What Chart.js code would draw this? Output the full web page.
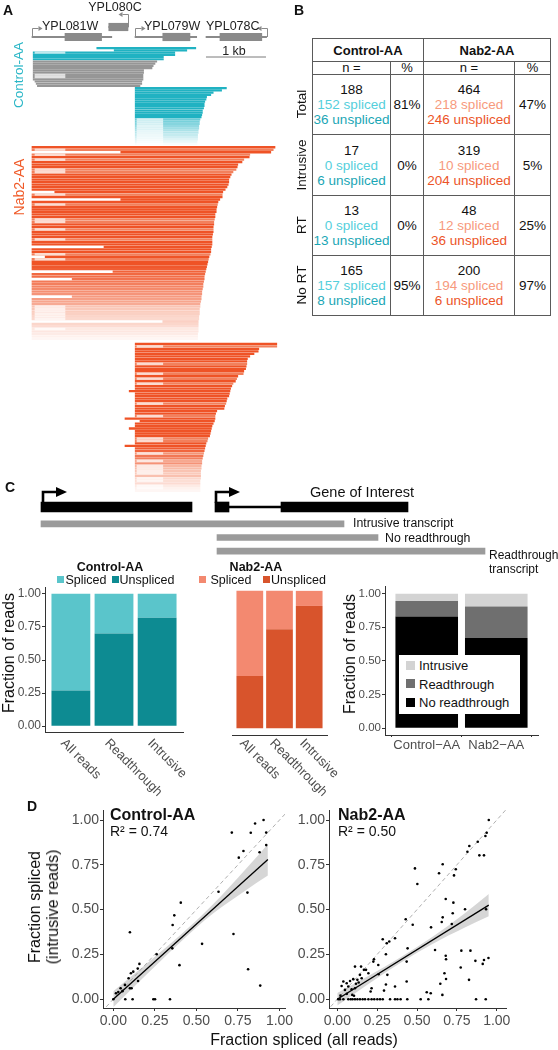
<!DOCTYPE html>
<html><head><meta charset="utf-8">
<script src="https://cdn.jsdelivr.net/npm/chart.js"></script>
<style>
html,body{margin:0;padding:0;background:#fff;}
#fig{position:relative;width:558px;height:1050px;overflow:hidden;font-family:"Liberation Sans",Arial,sans-serif;color:#111;}
#fig canvas{position:absolute;}
.t{position:absolute;white-space:nowrap;line-height:1;}
.sq{position:absolute;}
table.tb{position:absolute;left:312px;top:38px;border-collapse:collapse;table-layout:fixed;font-size:13.5px;color:#111;}
table.tb td{border:1px solid #5a5a5a;text-align:center;padding:0;line-height:15px;vertical-align:middle;}
</style></head><body><div id="fig"></div>
<script>
// ---- panel A: gene models (bp from left end of the window) ----
const geneNames = ['YPL081W','YPL080C','YPL079W','YPL078C'];
const geneStrand = ['+','-','+','-'];
const geneRow = ['main','top','main','main'];
const geneStart = [0,1280,1717,2900];
const geneEnd = [1330,1600,2745,3910];
const cdsStart = [550,1280,2180,3133];
const cdsEnd = [1160,1600,2633,3830];
const scaleBar = [2900,3900];
const intron081 = [50,550];
const intron079 = [1750,2180];

// ---- panel A: reads ----
const ctrlUpStart = [1080,1370,20,20,20,20, 20,20,20,20,20,20,20,20,20,50,70,90];
const ctrlUpEnd = [2730,2580,2380,2380,2190,2190, 2080,2050,2020,2000,1860,1860,1850,1850,1850,1830,1830,1800];
const ctrlUpSpliced = [0,0,1,0,0,0, 0,0,0,0,0,0,1,1,0,0,0,0];
const ctrlUpKind = ['t','t','t','t','t','t','g','g','g','g','g','g','g','g','g','g','g','g'];
const ctrlLowStart = [1720,1720,1720,1720,1720,1720,1720,1720,1720,1720,1720,1720,1720,1720,1720,1720,1720,1720,1720,1720,1720,1720,1720,1720,1720,1720];
const ctrlLowEnd = [3240,3160,3020,2980,2910,2900,2880,2870,2870,2860,2840,2840,2830,2820,2800,2790,2790,2780,2780,2770,2770,2760,2760,2760,2750,2750];
const ctrlLowSpliced = [0,0,0,0,0,0,0,0,0,0,0,0,0,0,1,1,1,1,1,1,1,1,1,1,1,1];

const nabUpStart = [0,0,1480,0,0,0,0,0,0,0, 0,0,0,0,0,0,0,0,380,0, 0,1480,0,0,0,0,0,0,0,0, 0,0,0,0,0,0,0,0,0,0,
  1200,0,0,0,220,0,0,0,0,0, 1350,0,0,670,0,0,0,0,0,0, 670,0,0,0,0,0,0,0,0,0, 2180,0,0,0,0,0,0,0];
const nabUpEnd = [4050,4020,3980,3630,3620,3530,3500,3430,3420,3400, 3350,3320,3300,3280,3280,3270,3250,3220,3180,3170,
  3170,3130,3100,3090,3080,3070,3070,3050,3050,3040, 3030,3030,3020,3020,3020,3010,3000,3000,3000,3000,
  2990,2980,2980,2970,2950,2940,2930,2920,2910,2900, 2890,2880,2870,2870,2860,2850,2850,2840,2830,2830,
  2820,2820,2810,2800,2800,2790,2790,2790,2780,2780, 2770,2770,2770,2770,2770,2760,2760,2760];
const nabUpSpliced = [0,1,0,1,0,1,0,0,0,1, 1,0,0,0,0,0,0,0,0,1, 0,0,0,1,0,0,0,0,0,1, 1,0,0,1,0,0,0,1,0,0,
  0,0,0,1,0,1,0,0,0,0, 0,0,0,0,0,0,0,0,0,0, 0,0,0,0,1,1,1,1,1,1, 0,0,0,1,0,0,0,0];
const nabLowStart = [1720,1720,1720,1720,1720,1720,1720,1720,1720,1720, 1720,1720,1720,1720,1720,1720,1720,1720,1720,1620,
  1720,1720,1720,1720,1720,1720,1720,1720,1720,1720, 1550,1800,1720,1720,1620,1720,1720,1720,1720,1720,
  1720,1550,1720,1720,1720,1720,1720,1720,1720,1720, 1720,1720,1720,1720,1720,1720,1720,1720,1720,1720];
const nabLowEnd = [4080,4080,3780,3770,3700,3630,3590,3580,3580,3570, 3560,3530,3520,3430,3410,3390,3350,3330,3310,3300,
  3290,3280,3250,3240,3230,3210,3200,3080,3060,3050, 3050,3040,3020,3000,2990,2980,2970,2960,2930,2920,
  2900,2890,2880,2870,2860,2850,2840,2830,2830,2820, 2820,2810,2810,2810,2810,2800,2800,2800,2800,2800];
const nabLowSpliced = [0,1,0,0,0,0,0,0,1,0, 0,0,1,0,1,0,1,0,0,0, 0,0,0,0,1,0,0,0,0,1, 0,0,0,0,0,0,0,0,1,1,
  0,0,0,0,1,0,0,1,0,1, 1,1,1,0,1,1,0,1,1,0];

// ---- panel B: table ----
const tblRows = ['Total','Intrusive','RT','No RT'];
const ctrlN = [188,17,13,165], ctrlSpl = [152,0,0,157], ctrlUns = [36,6,13,8], ctrlPct = ['81%','0%','0%','95%'];
const nabN = [464,319,48,200], nabSpl = [218,10,12,194], nabUns = [246,204,36,6], nabPct = ['47%','5%','25%','97%'];

// ---- panel C ----
const upstreamGene = [41,192];
const goiExons = [[215,229],[281,408]];
const goiIntron = [229,281];
const tssPos = [43,216];
const txRows = ['intrusive','noRT','RT'];
const txSpans = [[41,344],[217,378],[217,485]];
const readGroups = ['All reads','Readthrough','Intrusive'];
const ctrlSplicedFrac = [0.73,0.30,0.18];
const ctrlUnsplicedFrac = [0.27,0.70,0.82];
const nabSplicedFrac = [0.62,0.28,0.11];
const nabUnsplicedFrac = [0.38,0.72,0.89];
const strains = ['Control\u2212AA','Nab2\u2212AA'];
const fracNoRT = [0.83,0.67];
const fracRT = [0.115,0.235];
const fracIntrusive = [0.055,0.095];
const fracTicks = [0,0.25,0.5,0.75,1];

// ---- panel D ----
const ctrlAllX = [0.853,0.904,0.827,0.92,0.713,0.92,0.88,0.783,0.755,0.633,0.807,0.406,0.367,0.357,0.1,0.723,0.534,0.355,0.261,0.398,
  0.811,0.157,0.147,0.12,0.106,0.092,0.149,0.1,0.11,0.07,0.044,0.016,0,0.072,0.116,0.241,0.251,0.341,0.884,0.03,0.055];
const ctrlIntrY = [0.981,1.0,0.929,0.93,0.93,0.86,0.82,0.827,0.79,0.6,0.595,0.539,0.468,0.414,0.374,0.364,0.309,0.284,0.251,0.19,
  0.167,0.197,0.171,0.154,0.145,0.117,0.102,0.061,0.061,0.08,0.061,0.033,0,0,0,0,0,0,0.076,0.04,0.045];
const nabAllX = [0.95,0.937,0.929,0.881,0.828,0.816,0.891,0.92,0.661,0.487, 0.743,0.638,0.732,0.502,0.68,0.728,0.801,0.933,0.429,0.661,
  0.655,0.588,0.473,0.724,0.718,0.441,0.362,0.285,0.31,0.326, 0.305,0.23,0.226,0.149,0.68,0.682,0.778,0.835,0.613,0.866,
  0.92,0.948,0.912,0.774,0.435,0.826,0.672,0.682,0.646,0.659, 0.561,0.586,0.435,0.362,0.314,0.305,0.293,0.257,0.259,0.195,
  0.167,0.18,0.142,0.126,0.111,0.1,0.08,0.059,0.038,0.027, 0.048,0.069,0.09,0.111,0.215,0.209,0.117,0.134,0.153,0.006,
  0.094,0.105,0.02,0.06, 0.017,0.038,0.069,0.084,0.096,0.111,0.126,0.142,0.159,0.174,
  0.195,0.215,0.232,0.251,0.268,0.285,0.331,0.362,0.377,0.397, 0.439,0.523,0.571,0.87,0.931];
const nabIntrY = [1.0,0.929,0.911,0.879,0.855,0.823,0.803,0.803,0.753,0.73, 0.725,0.703,0.691,0.643,0.559,0.539,0.502,0.502,0.446,0.457,
  0.431,0.401,0.416,0.48,0.42,0.284,0.34,0.335,0.312,0.322, 0.251,0.223,0.21,0.182,0.243,0.223,0.271,0.271,0.275,0.214,
  0.219,0.23,0.197,0.177,0.21,0.108,0.145,0.113,0.086,0.024, 0.039,0.033,0.099,0.071,0.136,0.082,0.048,0.191,0.139,0.145,
  0.164,0.164,0.136,0.108,0.182,0.112,0.102,0.089,0.099,0.074, 0.052,0.071,0.056,0.061,0.061,0.043,0.086,0.093,0.117,0,
  0.024,0.019,0.02,0.03, 0,0,0,0,0,0,0,0,0,0, 0,0,0,0,0,0,0,0,0,0, 0,0,0,0,0];
const ctrlFitX = [0,0.93], ctrlFitY = [0,0.78];
const ctrlBandX = [0,0.2,0.4,0.6,0.8,0.93];
const ctrlBandLo = [-0.045,0.138,0.315,0.478,0.61,0.69];
const ctrlBandHi = [0.045,0.198,0.355,0.53,0.73,0.865];
const nabFitX = [0,0.95], nabFitY = [0,0.525];
const nabBandX = [0,0.2,0.4,0.6,0.8,0.95];
const nabBandLo = [-0.035,0.088,0.205,0.31,0.40,0.463];
const nabBandHi = [0.035,0.132,0.235,0.35,0.48,0.587];
const diagonal = [{x:-0.1,y:-0.1},{x:1.1,y:1.1}];

// ---- colours ----
const TEAL=[32,178,194], TEAL_L=[95,200,212], GREY=[150,150,150], NAB=[239,83,38], NAB_L=[242,128,92];
const GENE_COL='#8a8a8a';
const CT_LIGHT='#5ac5cb', CT_DARK='#0d8b92', NB_LIGHT='#f38970', NB_DARK='#d8542c';
const FONT='"Liberation Sans", Arial, sans-serif';

Chart.defaults.font.family = FONT;
Chart.defaults.animation = false;
Chart.defaults.responsive = false;
Chart.defaults.events = [];
Chart.defaults.plugins.legend.display = false;
Chart.defaults.plugins.tooltip.enabled = false;

const fig = document.getElementById('fig');
function mk(left, top, w, h){
  const c=document.createElement('canvas'); c.width=w; c.height=h;
  c.style.left=left+'px'; c.style.top=top+'px'; c.style.width=w+'px'; c.style.height=h+'px';
  fig.appendChild(c); return c;
}
function put(s, x, y, o={}){
  const d=document.createElement('div'); d.className='t'; d.textContent=s;
  const ax={l:'0',c:'-50%',r:'-100%'}[o.a||'l'];
  d.style.left=x+'px'; d.style.top=y+'px'; d.style.fontSize=(o.size||13)+'px';
  d.style.fontWeight=o.bold?'bold':'normal'; d.style.color=o.color||'#111';
  d.style.transform=`translate(${ax},-50%)`+(o.rot?` rotate(${o.rot}deg)`:'');
  fig.appendChild(d); return d;
}
function rot45(s, x, y){
  const d=document.createElement('div'); d.className='t'; d.textContent=s;
  d.style.cssText+=`left:${x}px;top:${y}px;font-size:13px;color:#4d4d4d;transform-origin:0 0;transform:rotate(45deg);`;
  fig.appendChild(d);
}
function sq(x,y,w,h,col){
  const d=document.createElement('div'); d.className='sq';
  d.style.cssText+=`left:${x}px;top:${y}px;width:${w}px;height:${h}px;background:${col};`;
  fig.appendChild(d);
}
function rgba(c,a){ return `rgba(${c[0]},${c[1]},${c[2]},${a.toFixed(3)})`; }
function fade(r,n,f0){ return r<f0 ? 1 : Math.max(0.05, 1-0.95*(r-f0+1)/(n-f0)); }

// ================= Panel A =================
const READ_MIN=-533, READ_MAX=4300;
const geneRowLabels=['top','main'];
new Chart(mk(0,0,290,62),{
  type:'bar',
  data:{labels:geneRowLabels, datasets:[
    {data:geneNames.map((g,i)=>({x:[cdsStart[i],cdsEnd[i]],y:geneRow[i]})), backgroundColor:GENE_COL, barThickness:7.5, grouped:false, order:0},
    {data:geneNames.map((g,i)=>({x:[geneStart[i],geneEnd[i]],y:geneRow[i]})), backgroundColor:GENE_COL, barThickness:1.3, grouped:false, order:1}
  ]},
  options:{indexAxis:'y', layout:{padding:{top:22,bottom:20,left:0,right:0}},
    scales:{x:{type:'linear',min:READ_MIN,max:READ_MAX,display:false}, y:{display:false}}},
  plugins:[{id:'arrows', afterDatasetsDraw(chart){
    const ctx=chart.ctx, xs=chart.scales.x, ys=chart.scales.y;
    ctx.save(); ctx.strokeStyle=GENE_COL; ctx.fillStyle=GENE_COL; ctx.lineWidth=1;
    geneNames.forEach((g,i)=>{
      const plus=geneStrand[i]==='+';
      const x=Math.round(xs.getPixelForValue(plus?geneStart[i]:geneEnd[i]))+0.5;
      const yc=ys.getPixelForValue(geneRowLabels.indexOf(geneRow[i]));
      const y1=Math.round(yc-(geneRow[i]==='top'?13:9.5))+0.5;
      const dir=plus?1:-1, x2=x+dir*6;
      ctx.beginPath(); ctx.moveTo(x,yc); ctx.lineTo(x,y1); ctx.lineTo(x2,y1); ctx.stroke();
      ctx.beginPath(); ctx.moveTo(x2,y1-2.5); ctx.lineTo(x2+dir*4,y1); ctx.lineTo(x2,y1+2.5); ctx.closePath(); ctx.fill();
    });
    const yb=chart.chartArea.bottom+15;
    ctx.strokeStyle='#7a7a7a'; ctx.beginPath();
    ctx.moveTo(xs.getPixelForValue(scaleBar[0]),yb); ctx.lineTo(xs.getPixelForValue(scaleBar[1]),yb); ctx.stroke();
    ctx.restore();
  }}]
});

function buildRows(start,end,spl,intron,colFn,f0){
  return end.map((e,i)=>({s:start[i],e:e,sp:spl[i],intr:intron,c:colFn(i),a:fade(i,end.length,f0)}));
}
const ctrlRows = buildRows(ctrlUpStart,ctrlUpEnd,ctrlUpSpliced,intron081,i=>ctrlUpKind[i]==='g'?GREY:TEAL,99)
  .concat(buildRows(ctrlLowStart,ctrlLowEnd,ctrlLowSpliced,intron079,i=>ctrlLowSpliced[i]?TEAL_L:TEAL,14));
const nabRows = buildRows(nabUpStart,nabUpEnd,nabUpSpliced,intron081,i=>nabUpSpliced[i]?NAB_L:NAB,48)
  .concat([null])
  .concat(buildRows(nabLowStart,nabLowEnd,nabLowSpliced,intron079,i=>nabLowSpliced[i]?NAB_L:NAB,42));

function readChart(canvas, rows, thick){
  return new Chart(canvas,{
    type:'bar',
    data:{labels:rows.map((r,i)=>String(i)), datasets:[
      {data:rows.map(r=>r&&r.sp&&r.s<r.intr[1]?[Math.max(r.s,r.intr[0]),Math.min(r.e,r.intr[1])]:null),
        backgroundColor:'rgba(255,255,255,0.72)', barThickness:thick, grouped:false, order:0},
      {data:rows.map(r=>r?[r.s,r.e]:null),
        backgroundColor:rows.map(r=>r?rgba(r.c,r.a):'rgba(0,0,0,0)'), barThickness:thick, grouped:false, order:1}
    ]},
    options:{indexAxis:'y', layout:{padding:0},
      scales:{x:{type:'linear',min:READ_MIN,max:READ_MAX,display:false}, y:{display:false}}}
  });
}
readChart(mk(0,47,290,98), ctrlRows, 1.5);
readChart(mk(0,146,290,346), nabRows, 1.65);

put('A',3,10,{bold:true,size:14});
put('YPL080C',115,7,{a:'c',size:12.5,color:'#222'});
put('YPL081W',42,25.5,{size:12.5,color:'#222'});
put('YPL079W',144,25.5,{size:12.5,color:'#222'});
put('YPL078C',206,25.5,{size:12.5,color:'#222'});
put('1 kb',234,51,{a:'c',size:12.5,color:'#222'});
put('Control-AA',19,75,{a:'c',rot:-90,size:13.5,color:'#29b6c6'});
put('Nab2-AA',19,187,{a:'c',rot:-90,size:14,color:'#f05a28'});

// ================= Panel B =================
put('B',294,10,{bold:true,size:14});
(function(){
  const tb=document.createElement('table'); tb.className='tb';
  const cg=document.createElement('colgroup');
  [78,33,91,36].forEach(w=>{const c=document.createElement('col'); c.style.width=w+'px'; cg.appendChild(c);});
  tb.appendChild(cg);
  let h=`<tr><td colspan="2" style="height:22px;font-weight:bold;font-size:13px">Control-AA</td><td colspan="2" style="font-weight:bold;font-size:13px">Nab2-AA</td></tr>`;
  h+=`<tr><td style="height:12px;line-height:12px;font-size:13px">n =</td><td style="line-height:12px;font-size:13px">%</td><td style="line-height:12px;font-size:13px">n =</td><td style="line-height:12px;font-size:13px">%</td></tr>`;
  tblRows.forEach((r,i)=>{
    h+=`<tr><td style="height:${i===1?60:59}px">${ctrlN[i]}<br><span style="color:#55cfdc">${ctrlSpl[i]} spliced</span><br><span style="color:#1aa6b5">${ctrlUns[i]} unspliced</span></td>`+
       `<td>${ctrlPct[i]}</td>`+
       `<td>${nabN[i]}<br><span style="color:#f79a7d">${nabSpl[i]} spliced</span><br><span style="color:#ec5427">${nabUns[i]} unspliced</span></td>`+
       `<td>${nabPct[i]}</td></tr>`;
  });
  tb.innerHTML+=h; fig.appendChild(tb);
})();
[104,165,225,285].forEach((y,i)=>put(tblRows[i],302,y,{a:'c',rot:-90,size:13.5}));

// ================= Panel C =================
put('C',5,487,{bold:true,size:14});
new Chart(mk(0,480,558,40),{
  type:'bar',
  data:{labels:['gene'], datasets:[
    {data:[{x:upstreamGene,y:'gene'}].concat(goiExons.map(e=>({x:e,y:'gene'}))), backgroundColor:'#000', barThickness:10, grouped:false, order:0},
    {data:[{x:goiIntron,y:'gene'}], backgroundColor:'#000', barThickness:1.6, grouped:false, order:1}
  ]},
  options:{indexAxis:'y', layout:{padding:{top:20,bottom:6}},
    scales:{x:{type:'linear',min:0,max:558,display:false}, y:{display:false}}},
  plugins:[{id:'tss', afterDatasetsDraw(chart){
    const ctx=chart.ctx, xs=chart.scales.x, yc=chart.scales.y.getPixelForValue(0);
    ctx.save(); ctx.strokeStyle='#000'; ctx.fillStyle='#000'; ctx.lineWidth=2.6;
    tssPos.forEach(p=>{
      const x=xs.getPixelForValue(p), yt=yc-15;
      ctx.beginPath(); ctx.moveTo(x,yc-4); ctx.lineTo(x,yt); ctx.lineTo(x+14,yt); ctx.stroke();
      ctx.beginPath(); ctx.moveTo(x+13,yt-5); ctx.lineTo(x+24,yt); ctx.lineTo(x+13,yt+5); ctx.closePath(); ctx.fill();
    });
    ctx.restore();
  }}]
});
new Chart(mk(0,514,558,46),{
  type:'bar',
  data:{labels:txRows, datasets:[
    {data:txSpans.map((s,i)=>({x:s,y:txRows[i]})), backgroundColor:'#9b9b9b', barThickness:6, grouped:false}
  ]},
  options:{indexAxis:'y', layout:{padding:{top:3,bottom:2}},
    scales:{x:{type:'linear',min:0,max:558,display:false}, y:{display:false}}}
});
put('Gene of Interest',310,492,{size:14.5});
put('Intrusive transcript',353,523,{size:12.3});
put('No readthrough',385,537.5,{size:12.3});
put('Readthrough',489,555,{size:12});
put('transcript',489,569,{size:12});

// facet headers + legends
put('Control-AA',110,567,{a:'c',bold:true,size:12.5});
sq(57,576,7,7,CT_LIGHT); put('Spliced',65.5,580,{size:12.5});
sq(111.5,576,7,7,CT_DARK); put('Unspliced',119.5,580,{size:12.5});
put('Nab2-AA',256,567,{a:'c',bold:true,size:12.5});
sq(199,576,7,7,NB_LIGHT); put('Spliced',210.5,580,{size:12.5});
sq(263,576,7,7,NB_DARK); put('Unspliced',271,580,{size:12.5});

function fracY(width, show, size){
  return {min:-0.05, max:1.05, stacked:true, display:show,
    afterFit:s=>{s.width=width;},
    afterBuildTicks:s=>{s.ticks=fracTicks.map(v=>({value:v}));},
    ticks:{callback:v=>v.toFixed(2), font:{size:size}, color:'#4d4d4d', padding:1},
    grid:{drawOnChartArea:false, tickLength:3, color:'#333'},
    border:{color:'#333', width:1}};
}
function groupX(n){
  return {type:'linear', min:0.4, max:n+0.6, offset:false, stacked:true,
    afterBuildTicks:s=>{s.ticks=Array.from({length:n},(v,i)=>({value:i+1}));},
    afterFit:s=>{s.height=6;}, ticks:{display:false}, grid:{display:false},
    border:{color:'#333', width:1}};
}
function fracBars(canvas, unspl, spl, cDark, cLight, showY, pad){
  return new Chart(canvas,{
    type:'bar',
    data:{datasets:[
      {data:unspl.map((v,i)=>({x:i+1,y:v})), backgroundColor:cDark},
      {data:spl.map((v,i)=>({x:i+1,y:v})), backgroundColor:cLight}
    ]},
    options:{layout:{padding:pad}, datasets:{bar:{barPercentage:0.9, categoryPercentage:1}},
      scales:{x:groupX(readGroups.length), y:fracY(45,showY,12)}}
  });
}
const c1=fracBars(mk(0,579,186,162), ctrlUnsplicedFrac, ctrlSplicedFrac, CT_DARK, CT_LIGHT, true, {top:5,right:3});
const c2=fracBars(mk(185,579,144,162), nabUnsplicedFrac, nabSplicedFrac, NB_DARK, NB_LIGHT, false, {top:5,left:2,right:2});
readGroups.forEach((g,i)=>{
  rot45(g, c1.scales.x.getPixelForValue(i+1)-2.5, 736);
  rot45(g, 185+c2.scales.x.getPixelForValue(i+1)-2.5, 736);
});
put('Fraction of reads',9,653,{a:'c',rot:-90,size:16});

const c3=new Chart(mk(335,579,208,181),{
  type:'bar',
  data:{datasets:[
    {data:fracNoRT.map((v,i)=>({x:i+1,y:v})), backgroundColor:'#000000'},
    {data:fracRT.map((v,i)=>({x:i+1,y:v})), backgroundColor:'#6f6f6f'},
    {data:fracIntrusive.map((v,i)=>({x:i+1,y:v})), backgroundColor:'#d3d3d3'}
  ]},
  options:{layout:{padding:{top:5,right:5}}, datasets:{bar:{barPercentage:0.9, categoryPercentage:1}},
    scales:{
      x:{type:'linear', min:0.4, max:2.6, offset:false, stacked:true,
        afterBuildTicks:s=>{s.ticks=strains.map((g,i)=>({value:i+1}));},
        afterFit:s=>{s.height=25;},
        ticks:{callback:v=>strains[v-1], font:{size:13}, color:'#4d4d4d', padding:1, maxRotation:0, autoSkip:false},
        grid:{drawOnChartArea:false, tickLength:2, color:'#333'}, border:{color:'#333', width:1}},
      y:fracY(50,true,11.5)}}
});
put('Fraction of reads',350,654,{a:'c',rot:-90,size:16});
(function(){
  const d=document.createElement('div'); d.className='sq';
  d.style.cssText+='left:399px;top:655px;width:121px;height:59px;background:#fff;';
  fig.appendChild(d);
  const items=[['Intrusive','#d3d3d3'],['Readthrough','#6f6f6f'],['No readthrough','#000']];
  items.forEach((it,i)=>{ const y=665+i*18.5; sq(406,y-4.5,9,9,it[1]); put(it[0],419,y,{size:13}); });
})();

// ================= Panel D =================
put('D',27,806,{bold:true,size:14});
const dTicks=[0,0.25,0.5,0.75,1];
function scatter(canvas, xs, ys, fitX, fitY, bX, bLo, bHi, xmin, xmax, padRight){
  const tickAxis=(min,max,isX)=>({type:'linear', min:min, max:max,
    afterBuildTicks:s=>{s.ticks=dTicks.map(v=>({value:v}));},
    afterFit:isX?(s=>{s.height=26;}):(s=>{s.width=43;}),
    ticks:{callback:v=>v.toFixed(2), font:{size:14}, color:'#4d4d4d', padding:isX?2:1, maxRotation:0, autoSkip:false},
    grid:{drawOnChartArea:false, tickLength:3, color:'#333'}, border:{color:'#333', width:1}});
  return new Chart(canvas,{
    type:'line',
    data:{datasets:[
      {data:xs.map((x,i)=>({x:x,y:ys[i]})), showLine:false, pointRadius:1.3, pointBackgroundColor:'#000', pointBorderWidth:0, order:0},
      {data:fitX.map((x,i)=>({x:x,y:fitY[i]})), borderColor:'#000', borderWidth:1.3, pointRadius:0, order:1},
      {data:diagonal, borderColor:'#9a9a9a', borderWidth:0.8, borderDash:[4,3], pointRadius:0, order:2},
      {data:bX.map((x,i)=>({x:x,y:bLo[i]})), borderColor:'rgba(0,0,0,0)', borderWidth:0, pointRadius:0, fill:false, cubicInterpolationMode:'monotone', order:3},
      {data:bX.map((x,i)=>({x:x,y:bHi[i]})), borderColor:'rgba(0,0,0,0)', borderWidth:0, pointRadius:0, fill:'-1', cubicInterpolationMode:'monotone', backgroundColor:'rgba(165,165,165,0.45)', order:4}
    ]},
    options:{layout:{padding:{top:10,right:padRight}},
      scales:{x:tickAxis(xmin,xmax,true), y:tickAxis(-0.049,1.056,false)}}
  });
}
scatter(mk(60,800,240,234), ctrlAllX, ctrlIntrY, ctrlFitX, ctrlFitY, ctrlBandX, ctrlBandLo, ctrlBandHi, -0.062, 1.033, 15);
scatter(mk(286,800,232,234), nabAllX, nabIntrY, nabFitX, nabFitY, nabBandX, nabBandLo, nabBandHi, -0.052, 1.058, 12);
put('Control-AA',110,815,{bold:true,size:16});
put('R\u00b2 = 0.74',110,831,{size:14});
put('Nab2-AA',338,815,{bold:true,size:16});
put('R\u00b2 = 0.50',338,831,{size:14});
put('Fraction spliced',35,907,{a:'c',rot:-90,size:16});
put('(intrusive reads)',53,907,{a:'c',rot:-90,size:16});
put('Fraction spliced (all reads)',304,1040,{a:'c',size:16});
</script></body></html>
